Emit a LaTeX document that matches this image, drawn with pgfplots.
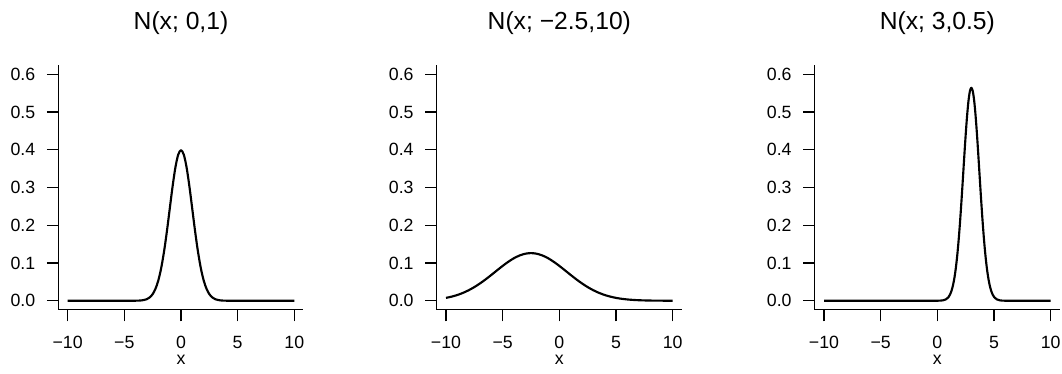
\documentclass[border=0pt]{standalone}
\usepackage{pgfplots}
\pgfplotsset{compat=1.18}
\usepackage{fontspec}
\setmainfont{Liberation Sans}

\pgfplotstableread{
x y
-10 0
-6 0
-5 0.0000015
-4.5 0.000016
-4 0.000134
-3.75 0.00035
-3.5 0.00087
-3.25 0.00203
-3 0.00443
-2.75 0.00909
-2.5 0.01753
-2.25 0.03174
-2 0.05399
-1.75 0.08628
-1.5 0.12952
-1.25 0.18265
-1 0.24197
-0.75 0.30114
-0.5 0.35207
-0.25 0.38667
0 0.39894
0.25 0.38667
0.5 0.35207
0.75 0.30114
1 0.24197
1.25 0.18265
1.5 0.12952
1.75 0.08628
2 0.05399
2.25 0.03174
2.5 0.01753
2.75 0.00909
3 0.00443
3.25 0.00203
3.5 0.00087
3.75 0.00035
4 0.000134
4.5 0.000016
5 0.0000015
6 0
10 0
}\tablea

\pgfplotstableread{
x y
-10 0.007577
-9.5 0.010887
-9 0.015257
-8.5 0.020854
-8 0.027799
-7.5 0.036145
-7 0.045835
-6.5 0.056687
-6 0.068377
-5.5 0.080442
-5 0.092300
-4.5 0.103289
-4 0.112734
-3.5 0.120004
-3 0.124590
-2.5 0.126157
-2 0.124590
-1.5 0.120004
-1 0.112734
-0.5 0.103289
0 0.092300
0.5 0.080442
1 0.068377
1.5 0.056687
2 0.045835
2.5 0.036145
3 0.027799
3.5 0.020854
4 0.015257
4.5 0.010887
5 0.007577
5.5 0.005142
6 0.003404
6.5 0.002198
7 0.001384
7.5 0.000850
8 0.000509
8.5 0.000297
9 0.000170
9.5 0.000094
10 0.000051
}\tableb

\pgfplotstableread{
x y
-10 0
-1 0
0 0.00007
0.25 0.00029
0.5 0.00109
0.75 0.00357
1 0.01033
1.125 0.01677
1.25 0.02639
1.375 0.04024
1.5 0.05947
1.625 0.08518
1.75 0.11826
1.875 0.15914
2 0.20756
2.125 0.26237
2.25 0.32147
2.375 0.38175
2.5 0.43939
2.625 0.49018
2.75 0.53001
2.875 0.55544
3 0.56419
3.125 0.55544
3.25 0.53001
3.375 0.49018
3.5 0.43939
3.625 0.38175
3.75 0.32147
3.875 0.26237
4 0.20756
4.125 0.15914
4.25 0.11826
4.375 0.08518
4.5 0.05947
4.625 0.04024
4.75 0.02639
4.875 0.01677
5 0.01033
5.25 0.00357
5.5 0.00109
5.75 0.00029
6 0.00007
7 0
10 0
}\tablec

\pgfplotsset{
  rpanel/.style={
    scale only axis,
    width=183.6pt, height=183.45pt,
    anchor=south west,
    xmin=-10.8, xmax=10.8, ymin=-0.024, ymax=0.624,
    axis lines=left,
    axis line style={-, line width=0.8pt},
    tick style={line width=0.8pt, black},
    tick align=outside,
    major tick length=8.7pt,
    xtick={-10,-5,0,5,10},
    xticklabels={−10,−5,0,5,10},
    ytick={0,0.1,0.2,0.3,0.4,0.5,0.6},
    yticklabels={0.0,0.1,0.2,0.3,0.4,0.5,0.6},
    ticklabel style={font=\fontsize{13.3}{15}\selectfont},
    xticklabel style={anchor=base, yshift=-20.3pt, inner sep=1pt},
    yticklabel style={anchor=east, xshift=-5.3pt},
    xlabel={x},
    xlabel style={at={(axis description cs:0.5,0)}, anchor=base, yshift=-41.4pt, inner sep=1pt, font=\fontsize{13.3}{15}\selectfont},
    title style={at={(axis description cs:0.5,1)}, anchor=base, yshift=21pt, font=\fontsize{18.5}{21}\selectfont},
    clip=false,
  }
}

\begin{document}
\begin{tikzpicture}
\useasboundingbox (0,0) rectangle (796.5pt,280.5pt);
\begin{axis}[rpanel, at={(43.95pt,48.15pt)}, title={N(x; 0,1)}]
\addplot[black, line width=1.6pt, smooth, line join=round] table[x=x,y=y] {\tablea};
\end{axis}
\begin{axis}[rpanel, at={(327.7pt,48.15pt)}, title={N(x; −2.5,10)}]
\addplot[black, line width=1.6pt, smooth, line join=round] table[x=x,y=y] {\tableb};
\end{axis}
\begin{axis}[rpanel, at={(611.2pt,48.15pt)}, title={N(x; 3,0.5)}]
\addplot[black, line width=1.6pt, smooth, line join=round] table[x=x,y=y] {\tablec};
\end{axis}
\end{tikzpicture}
\end{document}
